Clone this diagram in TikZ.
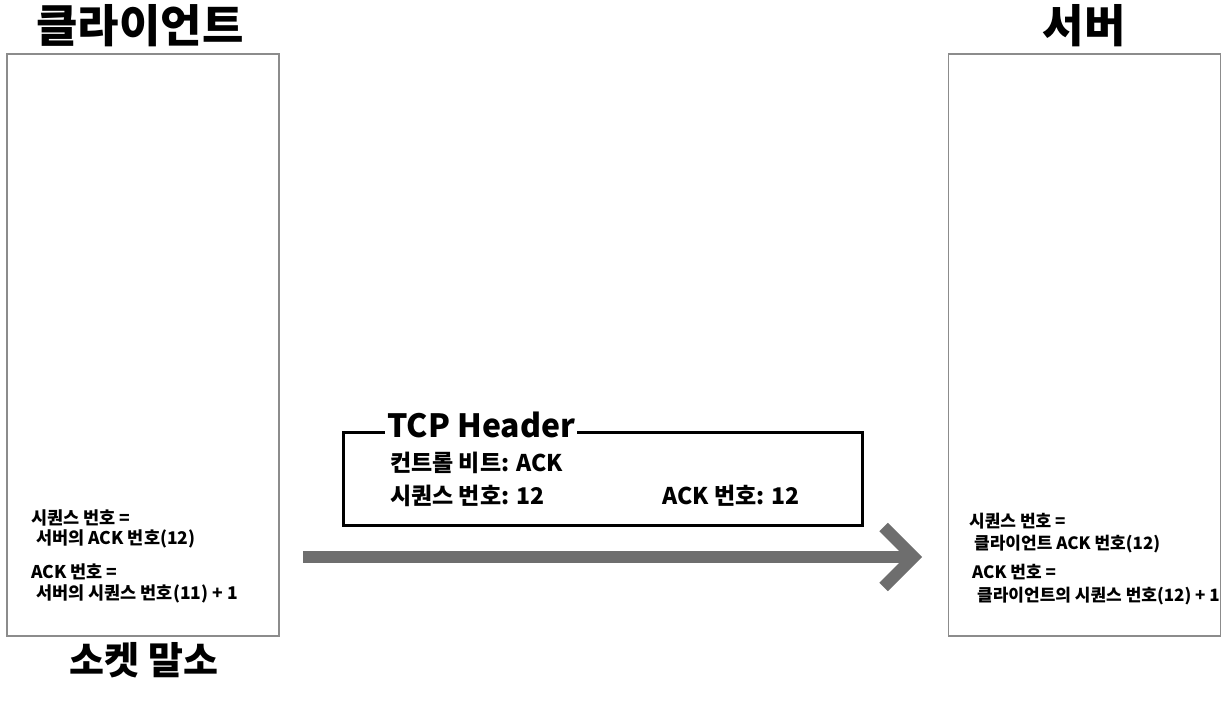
\documentclass[tikz,border=0pt]{standalone}
\usepackage{fontspec}
\setmainfont{Noto Sans CJK KR}
\usetikzlibrary{arrows.meta}
\usetikzlibrary{positioning}
\definecolor{boxgray}{HTML}{8C8C8C}
\definecolor{arrowgray}{HTML}{6E6E6E}

\begin{document}
\begin{tikzpicture}[x=1pt,y=-1pt]
        \useasboundingbox (0,0) rectangle (1227,711);

        % hosts
        \begin{scope}[every node/.style={draw=boxgray,line width=1.5pt,minimum width=272pt,minimum height=582pt,inner sep=0pt}]
            \node (client) at (143,345) {};
            \node (server) at (1084.5,345) {};
        \end{scope}

        \begin{scope}[every node/.style={font=\bfseries\fontsize{45}{45}\selectfont,inner sep=0pt}]
            \node (clientTitle) at (140,26) {클라이언트};
            \node (serverTitle) at (1084,26) {서버};
            \node[font=\bfseries\fontsize{38}{38}\selectfont] (teardown) at (144,660) {소켓 말소};
        \end{scope}

        % segment
        \node[draw,line width=3pt,minimum width=519pt,minimum height=93pt,inner sep=0pt] (tcp) at (602.5,478.5) {};
        \node[fill=white,anchor=west,inner sep=2pt,font=\bfseries\fontsize{32}{32}\selectfont] (tcpTitle) at (385,425) {TCP Header};

        \begin{scope}[every node/.style={anchor=west,inner sep=0pt,font=\bfseries\fontsize{23}{23}\selectfont}]
            \node (ctrlBits) at (390,463) {컨트롤 비트: ACK};
            \node (seqNum) at (390,496) {시퀀스 번호: 12};
            \node (ackNum) at (662,496) {ACK 번호: 12};
        \end{scope}

        % numbers
        \begin{scope}[every node/.style={anchor=west,inner sep=0pt,font=\bfseries\fontsize{17.5}{17.5}\selectfont}]
            \node (clientSeq) at (31,518) {시퀀스 번호 =};
            \node (clientSeqVal) at (36,539) {서버의 ACK 번호(12)};
            \node (clientAck) at (31,572) {ACK 번호 =};
            \node (clientAckVal) at (36,594) {서버의 시퀀스 번호(11) + 1};
        \end{scope}
        \begin{scope}[every node/.style={anchor=west,inner sep=0pt,font=\bfseries\fontsize{17}{17}\selectfont}]
            \node (serverSeq) at (969,521) {시퀀스 번호 =};
            \node (serverSeqVal) at (974,544) {클라이언트 ACK 번호(12)};
            \node (serverAck) at (972,572) {ACK 번호 =};
            \node (serverAckVal) at (977,596) {클라이언트의 시퀀스 번호(12) + 1};
        \end{scope}

        \coordinate (msgStart) at (303,557);
        \coordinate (msgEnd) at (922,557);
        \draw [arrowgray,line width=12pt,-{Straight Barb[length=30pt,width=60pt,line join=miter,line cap=butt]}] (msgStart) -- (msgEnd);
    \end{tikzpicture}
\end{document}
